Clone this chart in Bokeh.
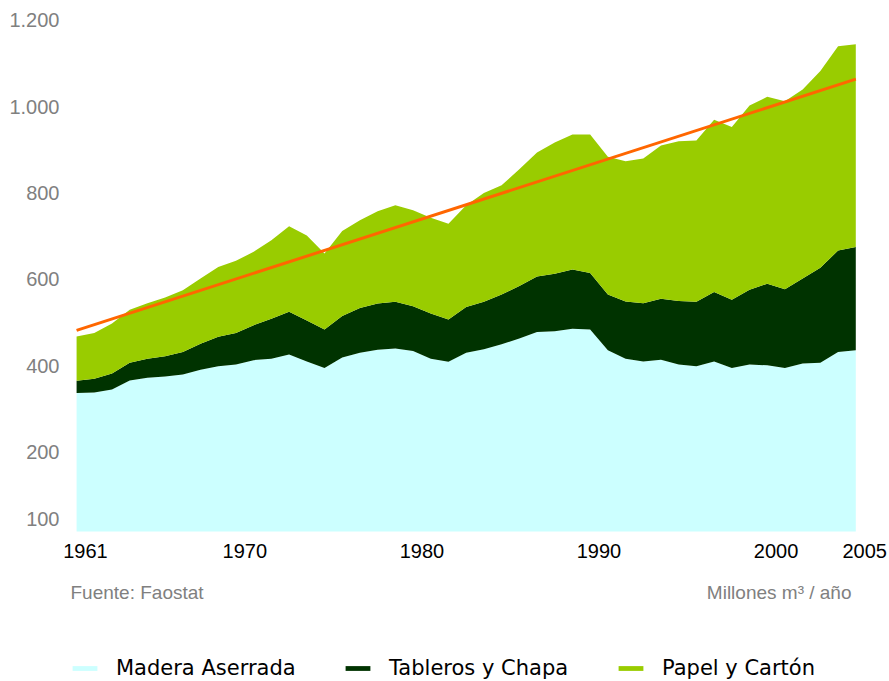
from bokeh.plotting import figure
from bokeh.layouts import column
from bokeh.models import (ColumnDataSource, Range1d, FixedTicker, Legend,
                          LegendItem, Label, LinearAxis)
from bokeh.embed import file_html
from bokeh.resources import INLINE

# ---------------- data ----------------
years = list(range(1961, 2006))
madera = [337, 338, 345, 366, 372, 375, 380, 391, 399, 403,
          413, 416, 426, 410, 395, 419, 430, 437, 440, 434,
          416, 409, 430, 438, 450, 463, 478, 480, 486, 484,
          436, 416, 410, 414, 403, 399, 410, 395, 403, 401,
          395, 405, 407, 432, 436]
tableros = [28, 32, 37, 41, 44, 47, 52, 60, 68, 73,
            81, 93, 99, 95, 89, 96, 104, 107, 108, 104,
            105, 98, 106, 110, 115, 122, 129, 133, 137, 131,
            129, 133, 135, 141, 147, 149, 161, 158, 173, 189,
            182, 197, 220, 235, 239]
papel = [103, 106, 116, 123, 129, 136, 143, 151, 162, 167,
         170, 182, 198, 197, 176, 197, 203, 214, 224, 222,
         222, 222, 236, 252, 253, 270, 287, 304, 313, 321,
         319, 325, 335, 355, 370, 374, 399, 400, 427, 433,
         436, 438, 456, 473, 470]
trend_years = [1961, 2005]
trend_values = [482, 1064]

series_keys = ["madera", "tableros", "papel"]
series_names = ["Madera Aserrada", "Tableros y Chapa", "Papel y Cartón"]
series_colors = ["#CCFFFF", "#003300", "#99CC00"]
trend_color = "#FF6600"

x_ticks = [1961, 1970, 1980, 1990, 2000, 2005]
y_ticks = [44, 200, 400, 600, 800, 1000, 1200]
y_tick_labels = ["100", "200", "400", "600", "800", "1.000", "1.200"]
source_text = "Fuente: Faostat"
unit_text = "Millones m³ / año"

# ---------------- main chart ----------------
src = ColumnDataSource(dict(year=years, madera=madera, tableros=tableros, papel=papel))

X0, X1 = 1960.6, 2006.0   # a little room around 1961–2005
LABEL_SHIFT = 0.5          # year labels sit slightly right of their year

p = figure(width=889, height=570,
           x_range=Range1d(X0, X1), y_range=Range1d(16, 1223),
           output_backend="svg", toolbar_location=None,
           x_axis_location=None,
           min_border_left=69, min_border_right=16,
           min_border_top=10, min_border_bottom=39,
           outline_line_color=None,
           background_fill_color="white", border_fill_color="white")
p.grid.visible = False
p.extra_x_ranges = {"labels": Range1d(X0 - LABEL_SHIFT, X1 - LABEL_SHIFT)}

areas = p.varea_stack(series_keys, x="year", source=src, color=series_colors)
p.line(trend_years, trend_values, line_color=trend_color, line_width=3)

xa = LinearAxis(x_range_name="labels", ticker=FixedTicker(ticks=x_ticks))
xa.axis_line_color = None
xa.major_tick_line_color = None
xa.minor_tick_line_color = None
xa.major_tick_out = 0
xa.major_tick_in = 0
xa.major_label_standoff = 12
xa.major_label_text_font = "Liberation Sans"
xa.major_label_text_font_size = "20px"
xa.major_label_text_color = "black"
p.add_layout(xa, "below")

ya = p.yaxis[0]
ya.ticker = FixedTicker(ticks=y_ticks)
ya.major_label_overrides = {t: l for t, l in zip(y_ticks, y_tick_labels)}
ya.axis_line_color = None
ya.major_tick_line_color = None
ya.minor_tick_line_color = None
ya.major_tick_out = 0
ya.major_tick_in = 0
ya.major_label_standoff = 10
ya.major_label_text_font = "Liberation Sans"
ya.major_label_text_font_size = "20px"
ya.major_label_text_color = "#808080"

# ---------------- footer: notes + legend ----------------
f = figure(width=889, height=111,
           x_range=Range1d(X0, X1), y_range=Range1d(-2, -1),
           output_backend="svg", toolbar_location=None,
           x_axis_location=None, y_axis_location=None,
           min_border_left=69, min_border_right=16,
           min_border_top=0, min_border_bottom=0,
           outline_line_color=None,
           background_fill_color="white", border_fill_color="white")
f.grid.visible = False
keys = f.varea_stack(series_keys, x="year", source=src, color=series_colors)

f.add_layout(Label(x=1, y=89, x_units="screen", y_units="screen",
                   text=source_text, text_align="left", text_baseline="middle",
                   text_font="Liberation Sans", text_font_size="19px",
                   text_color="#808080"))
f.add_layout(Label(x=782, y=89, x_units="screen", y_units="screen",
                   text=unit_text, text_align="right", text_baseline="middle",
                   text_font="Liberation Sans", text_font_size="19px",
                   text_color="#808080"))

legend = Legend(items=[LegendItem(label=n, renderers=[r]) for n, r in zip(series_names, keys)],
                orientation="horizontal", location=(0, 1),
                glyph_width=31, glyph_height=6, label_standoff=16,
                label_width=210, label_height=20, spacing=16,
                padding=0, margin=0, border_line_color=None,
                background_fill_alpha=0,
                label_text_font="DejaVu Sans", label_text_font_size="21px",
                label_text_color="black")
f.add_layout(legend)

open("out.html", "w").write(file_html(column(p, f, spacing=0), INLINE))
